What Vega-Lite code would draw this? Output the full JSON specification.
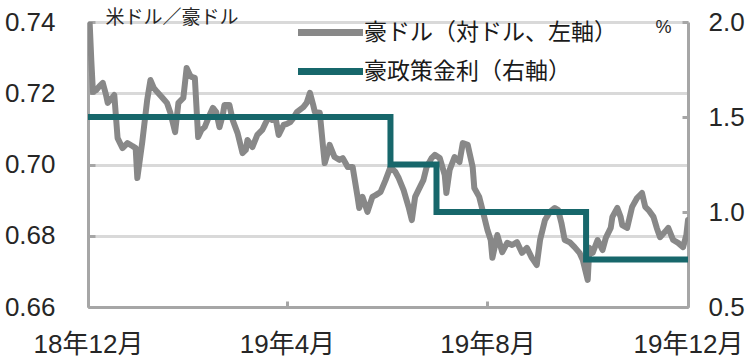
{
  "$schema": "https://vega.github.io/schema/vega-lite/v6.json",
  "width": 600,
  "height": 285,
  "autosize": "none",
  "padding": {"left": 88, "top": 22, "right": 68, "bottom": 53},
  "background": "white",
  "config": {
    "view": {"stroke": null},
    "font": "Liberation Sans, Noto Sans CJK JP",
    "axis": {
      "domainColor": "#a6a6a6",
      "domainWidth": 3,
      "tickColor": "#a6a6a6",
      "tickWidth": 3,
      "labelColor": "#262626",
      "titleColor": "#262626",
      "gridColor": "#d9d9d9",
      "gridWidth": 3,
      "labelFont": "Liberation Sans, Noto Sans CJK JP",
      "titleFont": "Liberation Sans, Noto Sans CJK JP",
      "titleFontWeight": "normal"
    },
    "legend": {
      "labelFont": "Noto Sans CJK JP",
      "labelFontSize": 23,
      "labelColor": "#1a1a1a",
      "labelLimit": 400
    }
  },
  "layer": [
    {
      "data": {
        "values": [
          {"date": "2018/12/02", "aud": 0.7398, "series": "豪ドル（対ドル、左軸）"},
          {"date": "2018/12/03", "aud": 0.7293, "series": "豪ドル（対ドル、左軸）"},
          {"date": "2018/12/04", "aud": 0.7204, "series": "豪ドル（対ドル、左軸）"},
          {"date": "2018/12/06", "aud": 0.7209, "series": "豪ドル（対ドル、左軸）"},
          {"date": "2018/12/08", "aud": 0.7220, "series": "豪ドル（対ドル、左軸）"},
          {"date": "2018/12/10", "aud": 0.7229, "series": "豪ドル（対ドル、左軸）"},
          {"date": "2018/12/12", "aud": 0.7195, "series": "豪ドル（対ドル、左軸）"},
          {"date": "2018/12/13", "aud": 0.7173, "series": "豪ドル（対ドル、左軸）"},
          {"date": "2018/12/16", "aud": 0.7189, "series": "豪ドル（対ドル、左軸）"},
          {"date": "2018/12/17", "aud": 0.7195, "series": "豪ドル（対ドル、左軸）"},
          {"date": "2018/12/19", "aud": 0.7074, "series": "豪ドル（対ドル、左軸）"},
          {"date": "2018/12/22", "aud": 0.7046, "series": "豪ドル（対ドル、左軸）"},
          {"date": "2018/12/25", "aud": 0.7060, "series": "豪ドル（対ドル、左軸）"},
          {"date": "2018/12/28", "aud": 0.7052, "series": "豪ドル（対ドル、左軸）"},
          {"date": "2018/12/30", "aud": 0.7046, "series": "豪ドル（対ドル、左軸）"},
          {"date": "2018/12/31", "aud": 0.6962, "series": "豪ドル（対ドル、左軸）"},
          {"date": "2019/01/03", "aud": 0.7063, "series": "豪ドル（対ドル、左軸）"},
          {"date": "2019/01/06", "aud": 0.7181, "series": "豪ドル（対ドル、左軸）"},
          {"date": "2019/01/08", "aud": 0.7237, "series": "豪ドル（対ドル、左軸）"},
          {"date": "2019/01/10", "aud": 0.7215, "series": "豪ドル（対ドル、左軸）"},
          {"date": "2019/01/12", "aud": 0.7204, "series": "豪ドル（対ドル、左軸）"},
          {"date": "2019/01/15", "aud": 0.7189, "series": "豪ドル（対ドル、左軸）"},
          {"date": "2019/01/18", "aud": 0.7173, "series": "豪ドル（対ドル、左軸）"},
          {"date": "2019/01/20", "aud": 0.7147, "series": "豪ドル（対ドル、左軸）"},
          {"date": "2019/01/23", "aud": 0.7091, "series": "豪ドル（対ドル、左軸）"},
          {"date": "2019/01/25", "aud": 0.7173, "series": "豪ドル（対ドル、左軸）"},
          {"date": "2019/01/28", "aud": 0.7187, "series": "豪ドル（対ドル、左軸）"},
          {"date": "2019/01/30", "aud": 0.7271, "series": "豪ドル（対ドル、左軸）"},
          {"date": "2019/02/01", "aud": 0.7251, "series": "豪ドル（対ドル、左軸）"},
          {"date": "2019/02/02", "aud": 0.7246, "series": "豪ドル（対ドル、左軸）"},
          {"date": "2019/02/04", "aud": 0.7243, "series": "豪ドル（対ドル、左軸）"},
          {"date": "2019/02/06", "aud": 0.7077, "series": "豪ドル（対ドル、左軸）"},
          {"date": "2019/02/08", "aud": 0.7097, "series": "豪ドル（対ドル、左軸）"},
          {"date": "2019/02/10", "aud": 0.7105, "series": "豪ドル（対ドル、左軸）"},
          {"date": "2019/02/13", "aud": 0.7139, "series": "豪ドル（対ドル、左軸）"},
          {"date": "2019/02/15", "aud": 0.7159, "series": "豪ドル（対ドル、左軸）"},
          {"date": "2019/02/17", "aud": 0.7147, "series": "豪ドル（対ドル、左軸）"},
          {"date": "2019/02/19", "aud": 0.7105, "series": "豪ドル（対ドル、左軸）"},
          {"date": "2019/02/21", "aud": 0.7139, "series": "豪ドル（対ドル、左軸）"},
          {"date": "2019/02/22", "aud": 0.7167, "series": "豪ドル（対ドル、左軸）"},
          {"date": "2019/02/25", "aud": 0.7167, "series": "豪ドル（対ドル、左軸）"},
          {"date": "2019/02/27", "aud": 0.7125, "series": "豪ドル（対ドル、左軸）"},
          {"date": "2019/03/02", "aud": 0.7088, "series": "豪ドル（対ドル、左軸）"},
          {"date": "2019/03/05", "aud": 0.7032, "series": "豪ドル（対ドル、左軸）"},
          {"date": "2019/03/07", "aud": 0.7041, "series": "豪ドル（対ドル、左軸）"},
          {"date": "2019/03/08", "aud": 0.7069, "series": "豪ドル（対ドル、左軸）"},
          {"date": "2019/03/11", "aud": 0.7049, "series": "豪ドル（対ドル、左軸）"},
          {"date": "2019/03/14", "aud": 0.7083, "series": "豪ドル（対ドル、左軸）"},
          {"date": "2019/03/17", "aud": 0.7097, "series": "豪ドル（対ドル、左軸）"},
          {"date": "2019/03/19", "aud": 0.7116, "series": "豪ドル（対ドル、左軸）"},
          {"date": "2019/03/21", "aud": 0.7133, "series": "豪ドル（対ドル、左軸）"},
          {"date": "2019/03/23", "aud": 0.7125, "series": "豪ドル（対ドル、左軸）"},
          {"date": "2019/03/25", "aud": 0.7133, "series": "豪ドル（対ドル、左軸）"},
          {"date": "2019/03/27", "aud": 0.7083, "series": "豪ドル（対ドル、左軸）"},
          {"date": "2019/03/30", "aud": 0.7111, "series": "豪ドル（対ドル、左軸）"},
          {"date": "2019/04/01", "aud": 0.7114, "series": "豪ドル（対ドル、左軸）"},
          {"date": "2019/04/03", "aud": 0.7119, "series": "豪ドル（対ドル、左軸）"},
          {"date": "2019/04/05", "aud": 0.7131, "series": "豪ドル（対ドル、左軸）"},
          {"date": "2019/04/07", "aud": 0.7147, "series": "豪ドル（対ドル、左軸）"},
          {"date": "2019/04/11", "aud": 0.7161, "series": "豪ドル（対ドル、左軸）"},
          {"date": "2019/04/13", "aud": 0.7173, "series": "豪ドル（対ドル、左軸）"},
          {"date": "2019/04/15", "aud": 0.7201, "series": "豪ドル（対ドル、左軸）"},
          {"date": "2019/04/17", "aud": 0.7167, "series": "豪ドル（対ドル、左軸）"},
          {"date": "2019/04/18", "aud": 0.7147, "series": "豪ドル（対ドル、左軸）"},
          {"date": "2019/04/21", "aud": 0.7145, "series": "豪ドル（対ドル、左軸）"},
          {"date": "2019/04/23", "aud": 0.7049, "series": "豪ドル（対ドル、左軸）"},
          {"date": "2019/04/24", "aud": 0.7004, "series": "豪ドル（対ドル、左軸）"},
          {"date": "2019/04/26", "aud": 0.7035, "series": "豪ドル（対ドル、左軸）"},
          {"date": "2019/04/27", "aud": 0.7055, "series": "豪ドル（対ドル、左軸）"},
          {"date": "2019/04/30", "aud": 0.7021, "series": "豪ドル（対ドル、左軸）"},
          {"date": "2019/05/03", "aud": 0.7013, "series": "豪ドル（対ドル、左軸）"},
          {"date": "2019/05/05", "aud": 0.7018, "series": "豪ドル（対ドル、左軸）"},
          {"date": "2019/05/08", "aud": 0.6993, "series": "豪ドル（対ドル、左軸）"},
          {"date": "2019/05/11", "aud": 0.6993, "series": "豪ドル（対ドル、左軸）"},
          {"date": "2019/05/14", "aud": 0.6909, "series": "豪ドル（対ドル、左軸）"},
          {"date": "2019/05/15", "aud": 0.6878, "series": "豪ドル（対ドル、左軸）"},
          {"date": "2019/05/17", "aud": 0.6909, "series": "豪ドル（対ドル、左軸）"},
          {"date": "2019/05/20", "aud": 0.6867, "series": "豪ドル（対ドル、左軸）"},
          {"date": "2019/05/23", "aud": 0.6909, "series": "豪ドル（対ドル、左軸）"},
          {"date": "2019/05/25", "aud": 0.6914, "series": "豪ドル（対ドル、左軸）"},
          {"date": "2019/05/28", "aud": 0.6923, "series": "豪ドル（対ドル、左軸）"},
          {"date": "2019/05/31", "aud": 0.6956, "series": "豪ドル（対ドル、左軸）"},
          {"date": "2019/06/03", "aud": 0.6993, "series": "豪ドル（対ドル、左軸）"},
          {"date": "2019/06/06", "aud": 0.6979, "series": "豪ドル（対ドル、左軸）"},
          {"date": "2019/06/08", "aud": 0.6962, "series": "豪ドル（対ドル、左軸）"},
          {"date": "2019/06/11", "aud": 0.6928, "series": "豪ドル（対ドル、左軸）"},
          {"date": "2019/06/14", "aud": 0.6881, "series": "豪ドル（対ドル、左軸）"},
          {"date": "2019/06/16", "aud": 0.6844, "series": "豪ドル（対ドル、左軸）"},
          {"date": "2019/06/18", "aud": 0.6909, "series": "豪ドル（対ドル、左軸）"},
          {"date": "2019/06/20", "aud": 0.6928, "series": "豪ドル（対ドル、左軸）"},
          {"date": "2019/06/23", "aud": 0.6956, "series": "豪ドル（対ドル、左軸）"},
          {"date": "2019/06/25", "aud": 0.6993, "series": "豪ドル（対ドル、左軸）"},
          {"date": "2019/06/28", "aud": 0.7018, "series": "豪ドル（対ドル、左軸）"},
          {"date": "2019/06/30", "aud": 0.7027, "series": "豪ドル（対ドル、左軸）"},
          {"date": "2019/07/03", "aud": 0.7018, "series": "豪ドル（対ドル、左軸）"},
          {"date": "2019/07/06", "aud": 0.6971, "series": "豪ドル（対ドル、左軸）"},
          {"date": "2019/07/07", "aud": 0.6920, "series": "豪ドル（対ドル、左軸）"},
          {"date": "2019/07/09", "aud": 0.6985, "series": "豪ドル（対ドル、左軸）"},
          {"date": "2019/07/12", "aud": 0.7021, "series": "豪ドル（対ドル、左軸）"},
          {"date": "2019/07/15", "aud": 0.7007, "series": "豪ドル（対ドル、左軸）"},
          {"date": "2019/07/17", "aud": 0.7060, "series": "豪ドル（対ドル、左軸）"},
          {"date": "2019/07/20", "aud": 0.7055, "series": "豪ドル（対ドル、左軸）"},
          {"date": "2019/07/23", "aud": 0.6993, "series": "豪ドル（対ドル、左軸）"},
          {"date": "2019/07/24", "aud": 0.6934, "series": "豪ドル（対ドル、左軸）"},
          {"date": "2019/07/27", "aud": 0.6909, "series": "豪ドル（対ドル、左軸）"},
          {"date": "2019/07/29", "aud": 0.6872, "series": "豪ドル（対ドル、左軸）"},
          {"date": "2019/08/01", "aud": 0.6816, "series": "豪ドル（対ドル、左軸）"},
          {"date": "2019/08/03", "aud": 0.6788, "series": "豪ドル（対ドル、左軸）"},
          {"date": "2019/08/04", "aud": 0.6738, "series": "豪ドル（対ドル、左軸）"},
          {"date": "2019/08/07", "aud": 0.6802, "series": "豪ドル（対ドル、左軸）"},
          {"date": "2019/08/10", "aud": 0.6754, "series": "豪ドル（対ドル、左軸）"},
          {"date": "2019/08/13", "aud": 0.6780, "series": "豪ドル（対ドル、左軸）"},
          {"date": "2019/08/16", "aud": 0.6774, "series": "豪ドル（対ドル、左軸）"},
          {"date": "2019/08/19", "aud": 0.6782, "series": "豪ドル（対ドル、左軸）"},
          {"date": "2019/08/22", "aud": 0.6752, "series": "豪ドル（対ドル、左軸）"},
          {"date": "2019/08/25", "aud": 0.6766, "series": "豪ドル（対ドル、左軸）"},
          {"date": "2019/08/28", "aud": 0.6738, "series": "豪ドル（対ドル、左軸）"},
          {"date": "2019/08/31", "aud": 0.6718, "series": "豪ドル（対ドル、左軸）"},
          {"date": "2019/09/02", "aud": 0.6788, "series": "豪ドル（対ドル、左軸）"},
          {"date": "2019/09/05", "aud": 0.6844, "series": "豪ドル（対ドル、左軸）"},
          {"date": "2019/09/08", "aud": 0.6867, "series": "豪ドル（対ドル、左軸）"},
          {"date": "2019/09/11", "aud": 0.6878, "series": "豪ドル（対ドル、左軸）"},
          {"date": "2019/09/13", "aud": 0.6872, "series": "豪ドル（対ドル、左軸）"},
          {"date": "2019/09/15", "aud": 0.6836, "series": "豪ドル（対ドル、左軸）"},
          {"date": "2019/09/17", "aud": 0.6788, "series": "豪ドル（対ドル、左軸）"},
          {"date": "2019/09/20", "aud": 0.6782, "series": "豪ドル（対ドル、左軸）"},
          {"date": "2019/09/23", "aud": 0.6768, "series": "豪ドル（対ドル、左軸）"},
          {"date": "2019/09/26", "aud": 0.6752, "series": "豪ドル（対ドル、左軸）"},
          {"date": "2019/09/28", "aud": 0.6732, "series": "豪ドル（対ドル、左軸）"},
          {"date": "2019/10/01", "aud": 0.6676, "series": "豪ドル（対ドル、左軸）"},
          {"date": "2019/10/02", "aud": 0.6766, "series": "豪ドル（対ドル、左軸）"},
          {"date": "2019/10/04", "aud": 0.6752, "series": "豪ドル（対ドル、左軸）"},
          {"date": "2019/10/07", "aud": 0.6788, "series": "豪ドル（対ドル、左軸）"},
          {"date": "2019/10/10", "aud": 0.6760, "series": "豪ドル（対ドル、左軸）"},
          {"date": "2019/10/12", "aud": 0.6794, "series": "豪ドル（対ドル、左軸）"},
          {"date": "2019/10/15", "aud": 0.6822, "series": "豪ドル（対ドル、左軸）"},
          {"date": "2019/10/16", "aud": 0.6853, "series": "豪ドル（対ドル、左軸）"},
          {"date": "2019/10/19", "aud": 0.6878, "series": "豪ドル（対ドル、左軸）"},
          {"date": "2019/10/21", "aud": 0.6853, "series": "豪ドル（対ドル、左軸）"},
          {"date": "2019/10/22", "aud": 0.6830, "series": "豪ドル（対ドル、左軸）"},
          {"date": "2019/10/25", "aud": 0.6822, "series": "豪ドル（対ドル、左軸）"},
          {"date": "2019/10/28", "aud": 0.6881, "series": "豪ドル（対ドル、左軸）"},
          {"date": "2019/10/31", "aud": 0.6906, "series": "豪ドル（対ドル、左軸）"},
          {"date": "2019/11/03", "aud": 0.6920, "series": "豪ドル（対ドル、左軸）"},
          {"date": "2019/11/05", "aud": 0.6881, "series": "豪ドル（対ドル、左軸）"},
          {"date": "2019/11/07", "aud": 0.6872, "series": "豪ドル（対ドル、左軸）"},
          {"date": "2019/11/10", "aud": 0.6853, "series": "豪ドル（対ドル、左軸）"},
          {"date": "2019/11/12", "aud": 0.6822, "series": "豪ドル（対ドル、左軸）"},
          {"date": "2019/11/14", "aud": 0.6796, "series": "豪ドル（対ドル、左軸）"},
          {"date": "2019/11/17", "aud": 0.6811, "series": "豪ドル（対ドル、左軸）"},
          {"date": "2019/11/19", "aud": 0.6822, "series": "豪ドル（対ドル、左軸）"},
          {"date": "2019/11/22", "aud": 0.6788, "series": "豪ドル（対ドル、左軸）"},
          {"date": "2019/11/25", "aud": 0.6780, "series": "豪ドル（対ドル、左軸）"},
          {"date": "2019/11/28", "aud": 0.6768, "series": "豪ドル（対ドル、左軸）"},
          {"date": "2019/11/30", "aud": 0.6802, "series": "豪ドル（対ドル、左軸）"},
          {"date": "2019/12/01", "aud": 0.6844, "series": "豪ドル（対ドル、左軸）"}
        ]
      },
      "mark": {"type": "line", "strokeWidth": 6, "strokeJoin": "round", "strokeCap": "round", "clip": true},
      "encoding": {
        "x": {
          "field": "date",
          "type": "temporal",
          "scale": {"domain": [{"year": 2018, "month": 12, "date": 1}, {"year": 2019, "month": 12, "date": 1}]},
          "axis": {
            "title": null,
            "values": [{"year": 2018, "month": 12, "date": 1}, {"year": 2019, "month": 4, "date": 1}, {"year": 2019, "month": 8, "date": 1}, {"year": 2019, "month": 12, "date": 1}],
            "format": "%y年%-m月",
            "labelFontSize": 26,
            "labelPadding": 30,
            "tickSize": -6,
            "labelOverlap": false,
            "labelFlush": false,
            "labelBound": false,
            "grid": false
          }
        },
        "y": {
          "field": "aud",
          "type": "quantitative",
          "scale": {"domain": [0.66, 0.74], "nice": false, "zero": false},
          "axis": {
            "title": "米ドル／豪ドル",
            "titleAngle": 0,
            "titleAlign": "left",
            "titleBaseline": "alphabetic",
            "titleX": 17,
            "titleY": 1,
            "titleFontSize": 19,
            "values": [0.66, 0.68, 0.70, 0.72, 0.74],
            "format": ".2f",
            "labelFontSize": 26,
            "labelPadding": 40,
            "tickSize": -7,
            "labelBaseline": "middle",
            "grid": true
          }
        },
        "color": {
          "field": "series",
          "type": "nominal",
          "scale": {"domain": ["豪ドル（対ドル、左軸）", "豪政策金利（右軸）"], "range": ["#888888", "#17676b"]},
          "legend": {
            "title": null,
            "orient": "none",
            "legendX": 205,
            "legendY": -1,
            "symbolType": "M-1,0H9",
            "symbolSize": 169,
            "symbolStrokeWidth": 7,
            "labelOffset": 48,
            "rowPadding": 10
          }
        }
      }
    },
    {
      "data": {
        "values": [
          {"date": "2018/12/01", "rate": 1.5, "series": "豪政策金利（右軸）"},
          {"date": "2019/06/03", "rate": 1.25, "series": "豪政策金利（右軸）"},
          {"date": "2019/07/01", "rate": 1.0, "series": "豪政策金利（右軸）"},
          {"date": "2019/09/30", "rate": 0.75, "series": "豪政策金利（右軸）"},
          {"date": "2019/12/01", "rate": 0.75, "series": "豪政策金利（右軸）"}
        ]
      },
      "mark": {"type": "line", "interpolate": "step-after", "strokeWidth": 6},
      "encoding": {
        "x": {"field": "date", "type": "temporal"},
        "y": {
          "field": "rate",
          "type": "quantitative",
          "scale": {"domain": [0.5, 2.0], "nice": false, "zero": false},
          "axis": {
            "orient": "right",
            "title": "%",
            "titleAngle": 0,
            "titleAlign": "center",
            "titleBaseline": "alphabetic",
            "titleX": -25,
            "titleY": 10,
            "titleFontSize": 18,
            "values": [0.5, 1.0, 1.5, 2.0],
            "format": ".1f",
            "labelFontSize": 26,
            "labelPadding": 26,
            "tickSize": -6,
            "labelBaseline": "middle",
            "grid": false
          }
        },
        "color": {"field": "series", "type": "nominal"}
      }
    }
  ],
  "resolve": {"scale": {"y": "independent"}}
}
